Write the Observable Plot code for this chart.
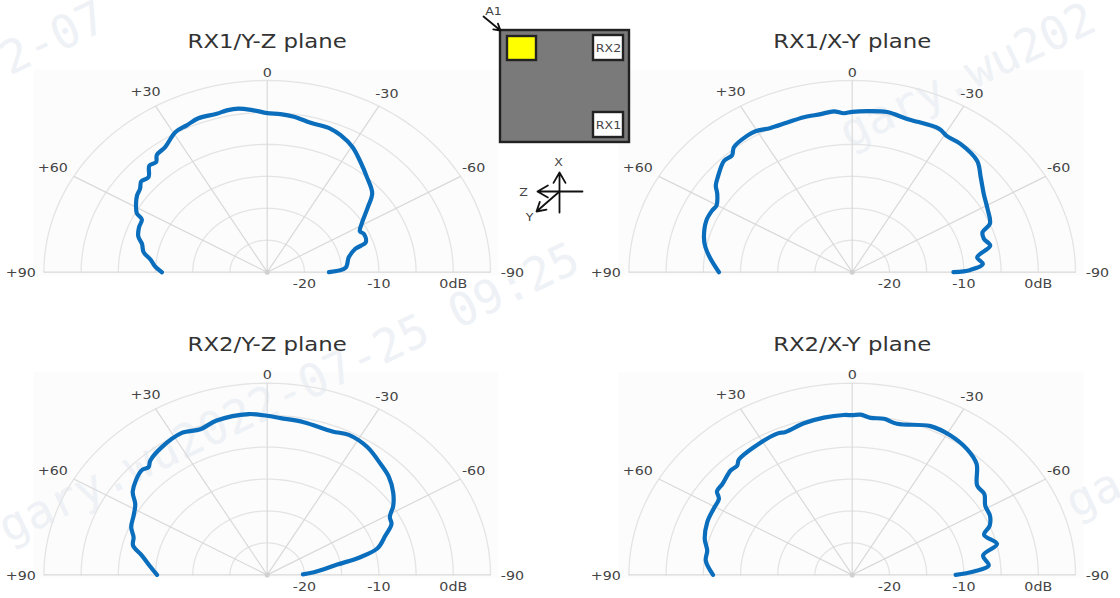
<!DOCTYPE html>
<html>
<head>
<meta charset="utf-8">
<script src="https://cdn.jsdelivr.net/npm/d3@7"></script>
<script src="https://cdn.jsdelivr.net/npm/@observablehq/plot@0.6"></script>
<style>
html,body{margin:0;padding:0;background:#fff}
svg{display:block}
</style>
</head>
<body>
<div id="chart"></div>
<script>
// ---- data: [angle in degrees, gain in dB] ----
const rx1YZ = [[90,-10.85],[86.6,-9.9],[83,-9.25],[79.3,-8.1],[75.2,-7.6],[72.1,-6.8],[67.8,-6.4],[63.9,-6.25],[62.2,-5.2],[58.8,-4.4],[55.6,-3.8],[52.6,-3.5],[50,-2.9],[47,-3.2],[43.5,-2],[40.9,-2.2],[38.9,-1.4],[35,-1.1],[29.4,0.15],[25.2,0.4],[21,0.8],[15.3,0.7],[12.1,0.9],[8.6,0.9],[4.15,0.4],[0,-0.1],[-4.1,-0.2],[-8.4,-0.4],[-14,-0.9],[-20.8,-1],[-24.7,-1.4],[-30.3,-2.3],[-36.1,-3.7],[-42.1,-5],[-48.8,-6.25],[-53.1,-8.1],[-58.4,-10],[-62.8,-11],[-65.2,-10.7],[-70.5,-10.95],[-72.8,-12.6],[-78,-13.8],[-86.3,-14.45],[-90,-16.7]];
const rx1XY = [[90,-7.1],[83.7,-5.85],[78.8,-4.9],[74.7,-4.35],[67.5,-3.8],[62.8,-3.85],[60.2,-4],[55.9,-3.1],[53.5,-2.2],[50.5,-1.6],[44.6,-0.5],[41.4,-0.6],[39.1,0.2],[33.4,0.6],[30.5,0.6],[25.9,0.1],[20.4,0],[15,0.1],[9.7,0.1],[5.6,0.3],[2.6,-0.1],[0,0.1],[-4.6,0.3],[-10.6,0.5],[-17.1,0.1],[-27.4,0.3],[-31,-0.2],[-35.9,-0.2],[-43.9,-0.8],[-49.2,-2.2],[-55.3,-3.5],[-61.5,-4.3],[-67.7,-5],[-70.3,-6.4],[-73.5,-6.55],[-77.4,-6],[-82.1,-8.05],[-85.8,-7.4],[-88.7,-9.1],[-90,-11.4]];
const rx2YZ = [[90,-10.2],[85.1,-9.2],[79.8,-7.9],[75.7,-6.4],[71.8,-6.1],[67.7,-5.25],[62.7,-4.8],[58,-4.1],[54.1,-2.7],[45.9,-1.5],[43.4,-1.8],[41.3,-1.2],[35.3,-0.5],[27.3,0],[21.5,-0.5],[15.7,0.1],[5.7,0.3],[0,-0.1],[-4.2,-0.4],[-11.6,-0.6],[-21.3,-0.9],[-26.6,-0.5],[-33.9,-0.9],[-41.2,-1.9],[-46.9,-2.6],[-52.6,-3.7],[-57.4,-4.9],[-61.2,-6.2],[-64.5,-6.5],[-68.9,-8],[-74.3,-9.6],[-77.5,-12.2],[-80.3,-15.45],[-86.3,-18.7],[-89,-20.2]];
const rx2XY = [[90,-6.3],[83.5,-5.2],[78.9,-5.15],[74.1,-4.4],[67,-3.85],[60.9,-3.7],[56.4,-3.5],[54.2,-2.6],[50.8,-2.5],[45,-1.9],[42.1,-1.95],[40.2,-1.4],[33.5,-1.05],[24.5,-0.7],[21.8,-0.9],[15.3,-0.4],[8.8,-0.1],[2.6,0.05],[0,0],[-2.6,0.1],[-5.7,-0.3],[-9.9,-0.2],[-14.3,-0.6],[-24.3,0.55],[-31.2,0.5],[-38.1,0],[-43.9,-0.9],[-50.2,-3.15],[-54.5,-3.2],[-58.8,-4.1],[-63.4,-4.3],[-67.4,-5],[-70.5,-6.2],[-76,-4.95],[-80.2,-7.15],[-85.4,-6.6],[-88.1,-8.65],[-90,-11.1]];

const panelTitles = ["RX1/Y-Z plane","RX1/X-Y plane","RX2/Y-Z plane","RX2/X-Y plane"];
const spokeAngles = [-90,-60,-30,0,30,60,90];
const angleLabels = ["-90","-60","-30","0","+30","+60","+90"];
const ringValues = [-20,-15,-10,-5,0,5];
const radialTicks = [-20,-10,0];
const radialLabels = ["-20","-10","0dB"];
const watermarkParts = ["2-07","gary.wu202","gary.wu2022-07-25 09:25","ga"];

// ---- layout ----
const W = 1120, H = 598;
const centers = [[266.7,271.7],[851.7,271.7],[266.7,574.4],[851.7,574.4]];
const series = [rx1YZ, rx1XY, rx2YZ, rx2XY];
const rx = d3.scaleLinear([-25,5],[0,223.3]);
const ry = d3.scaleLinear([-25,5],[0,191.7]);
const rad = a => a*Math.PI/180;
const px = (c,a,db) => c[0] - rx(db)*Math.sin(rad(a));
const py = (c,a,db) => c[1] - ry(db)*Math.cos(rad(a));
const angleNudge = {"-90":[22,1],"-60":[13,-8],"-30":[8,-12],"0":[0,-8],"30":[-10,-14],"60":[-21,-8],"90":[-23,1]};

const panels = centers.map((c,i)=>({c,title:panelTitles[i],data:series[i]}));
const rings = panels.flatMap((p,i)=>ringValues.flatMap(v=>d3.range(-90,91,2).map(a=>({k:i+"/"+v,x:px(p.c,a,v),y:py(p.c,a,v)}))));
const spokes = panels.flatMap(p=>spokeAngles.map(a=>({x1:p.c[0],y1:p.c[1],x2:px(p.c,a,5),y2:py(p.c,a,5)})));
const curves = panels.flatMap((p,i)=>p.data.map(([a,db])=>({k:i,x:px(p.c,a,db),y:py(p.c,a,db)})));
const aLabels = panels.flatMap(p=>spokeAngles.map((a,j)=>{
  const n=angleNudge[a];
  return {x:px(p.c,a,5)+n[0],y:py(p.c,a,5)+n[1],t:angleLabels[j]};
}));
const rLabels = panels.flatMap(p=>radialTicks.map((v,j)=>({x:p.c[0]+rx(v),y:p.c[1]+12,t:radialLabels[j]})));
const titles = panels.map(p=>({x:p.c[0],y:p.c[1]-230.5,t:p.title}));
const backs = panels.map(p=>({x1:p.c[0]-233,x2:p.c[0]+232,y1:p.c[1]-202,y2:p.c[1]+4}));

const watermarkAt = [[3,62],[842,135],[1,530],[1068,505]];
const watermarks = watermarkAt.map(([x,y],i)=>({x,y,t:watermarkParts[i]}));
const mono = "'DejaVu Sans Mono',monospace", sans = "'DejaVu Sans',sans-serif";

const chip = [{x1:500,x2:629,y1:30,y2:142,f:"#7a7a7a"},{x1:507,x2:536,y1:36,y2:60,f:"#ffff00"},{x1:593,x2:623,y1:35,y2:60,f:"#ffffff"},{x1:593,x2:623,y1:112,y2:137,f:"#ffffff"}];
const chipText = [{x:608,y:48,t:"RX2"},{x:608,y:125,t:"RX1"},{x:493,y:11,t:"A1"},{x:558,y:162,t:"X"},{x:523,y:192,t:"Z"},{x:529,y:217,t:"Y"}];
const arrows = [{x1:483,y1:16,x2:500,y2:30},{x1:559,y1:212,x2:559,y2:172},{x1:582,y1:191,x2:537,y2:191},{x1:559,y1:191,x2:536,y2:211}];

const plot = Plot.plot({
  width:W,height:H,margin:0,
  x:{domain:[0,W],range:[0,W],axis:null},
  y:{domain:[0,H],range:[0,H],axis:null},
  style:{background:"#fff",fontFamily:sans},
  marks:[
    Plot.rect(backs,{x1:"x1",x2:"x2",y1:"y1",y2:"y2",fill:"#fcfcfc"}),
    Plot.text(watermarks,{x:"x",y:"y",text:"t",rotate:-25.5,textAnchor:"start",fontSize:46,fontFamily:mono,fill:"#eef1f5"}),
    Plot.line(rings,{x:"x",y:"y",z:"k",stroke:"#e4e4e4",strokeWidth:1.3}),
    Plot.link(spokes,{x1:"x1",y1:"y1",x2:"x2",y2:"y2",stroke:"#d9d9d9",strokeWidth:1.2}),
    Plot.dot(centers,{x:d=>d[0],y:d=>d[1],r:2.5,fill:"#d0d0d0"}),
    Plot.line(curves,{x:"x",y:"y",z:"k",stroke:"#0a6ebd",strokeWidth:4.2,strokeLinejoin:"round",strokeLinecap:"round",curve:"catmull-rom"}),
    Plot.text(aLabels,{x:"x",y:"y",text:"t",fontSize:12.5,fill:"#444",className:"st"}),
    Plot.text(rLabels,{x:"x",y:"y",text:"t",fontSize:12.5,fill:"#444",className:"st"}),
    Plot.text(titles,{x:"x",y:"y",text:"t",fontSize:20,fill:"#333",className:"st"}),
    Plot.rect(chip,{x1:"x1",x2:"x2",y1:"y1",y2:"y2",fill:"f",stroke:"#222",strokeWidth:2.4}),
    Plot.text(chipText,{x:"x",y:"y",text:"t",fontSize:11,fill:"#444",className:"st"}),
    Plot.arrow(arrows,{x1:"x1",y1:"y1",x2:"x2",y2:"y2",stroke:"#111",strokeWidth:1.8,headLength:10,bend:0})
  ]
});
document.getElementById("chart").append(plot);
// the reference is horizontally stretched: widen glyphs to match
plot.querySelectorAll(".st text").forEach(t=>{
  const len=t.getComputedTextLength();
  t.setAttribute("textLength",(len*1.14).toFixed(1));
  t.setAttribute("lengthAdjust","spacingAndGlyphs");
});
</script>
</body>
</html>
